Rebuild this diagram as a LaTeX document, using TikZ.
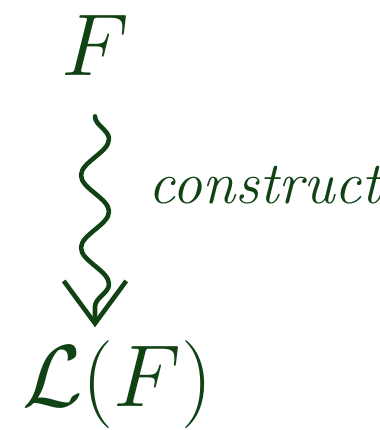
\RequirePackage{fix-cm}
\documentclass[tikz,border=0pt]{standalone}
\usepackage{amsmath, amssymb}
\usepackage{tikz}
\usetikzlibrary{positioning,arrows.meta,decorations.pathmorphing}
\usepackage{xcolor}
\definecolor{InkGreen}{RGB}{16,66,20}

\begin{document}
\begin{tikzpicture}[
    ink/.style={text=InkGreen, inner sep=2pt},
    big/.style={ink, font=\fontsize{50}{56}\selectfont},
    squig/.style={InkGreen, line width=2.6pt, line cap=round, line join=round,
        decorate, decoration={snake, amplitude=0.28cm, segment length=1.45cm, post length=3mm},
        -{Straight Barb[length=0.85cm, width=1.25cm, line width=2.6pt]}}
]
\useasboundingbox (0,0) rectangle (7.6,8.6);
\node[big] (f) at (1.9,7.7) {$F$};
\node[big] (lf) at (2.35,0.9) {$\mathcal{L}(F)$};
\node[ink, font=\fontsize{34}{40}\selectfont\itshape] (c) at (5.3,4.9) {construct};
% ends of the squiggle
\coordinate[below=0.75cm of f.south] (top);
\coordinate[above=0.2cm of f.south |- lf.north] (tip);
\draw[squig] (top) -- (tip);
\end{tikzpicture}
\end{document}
